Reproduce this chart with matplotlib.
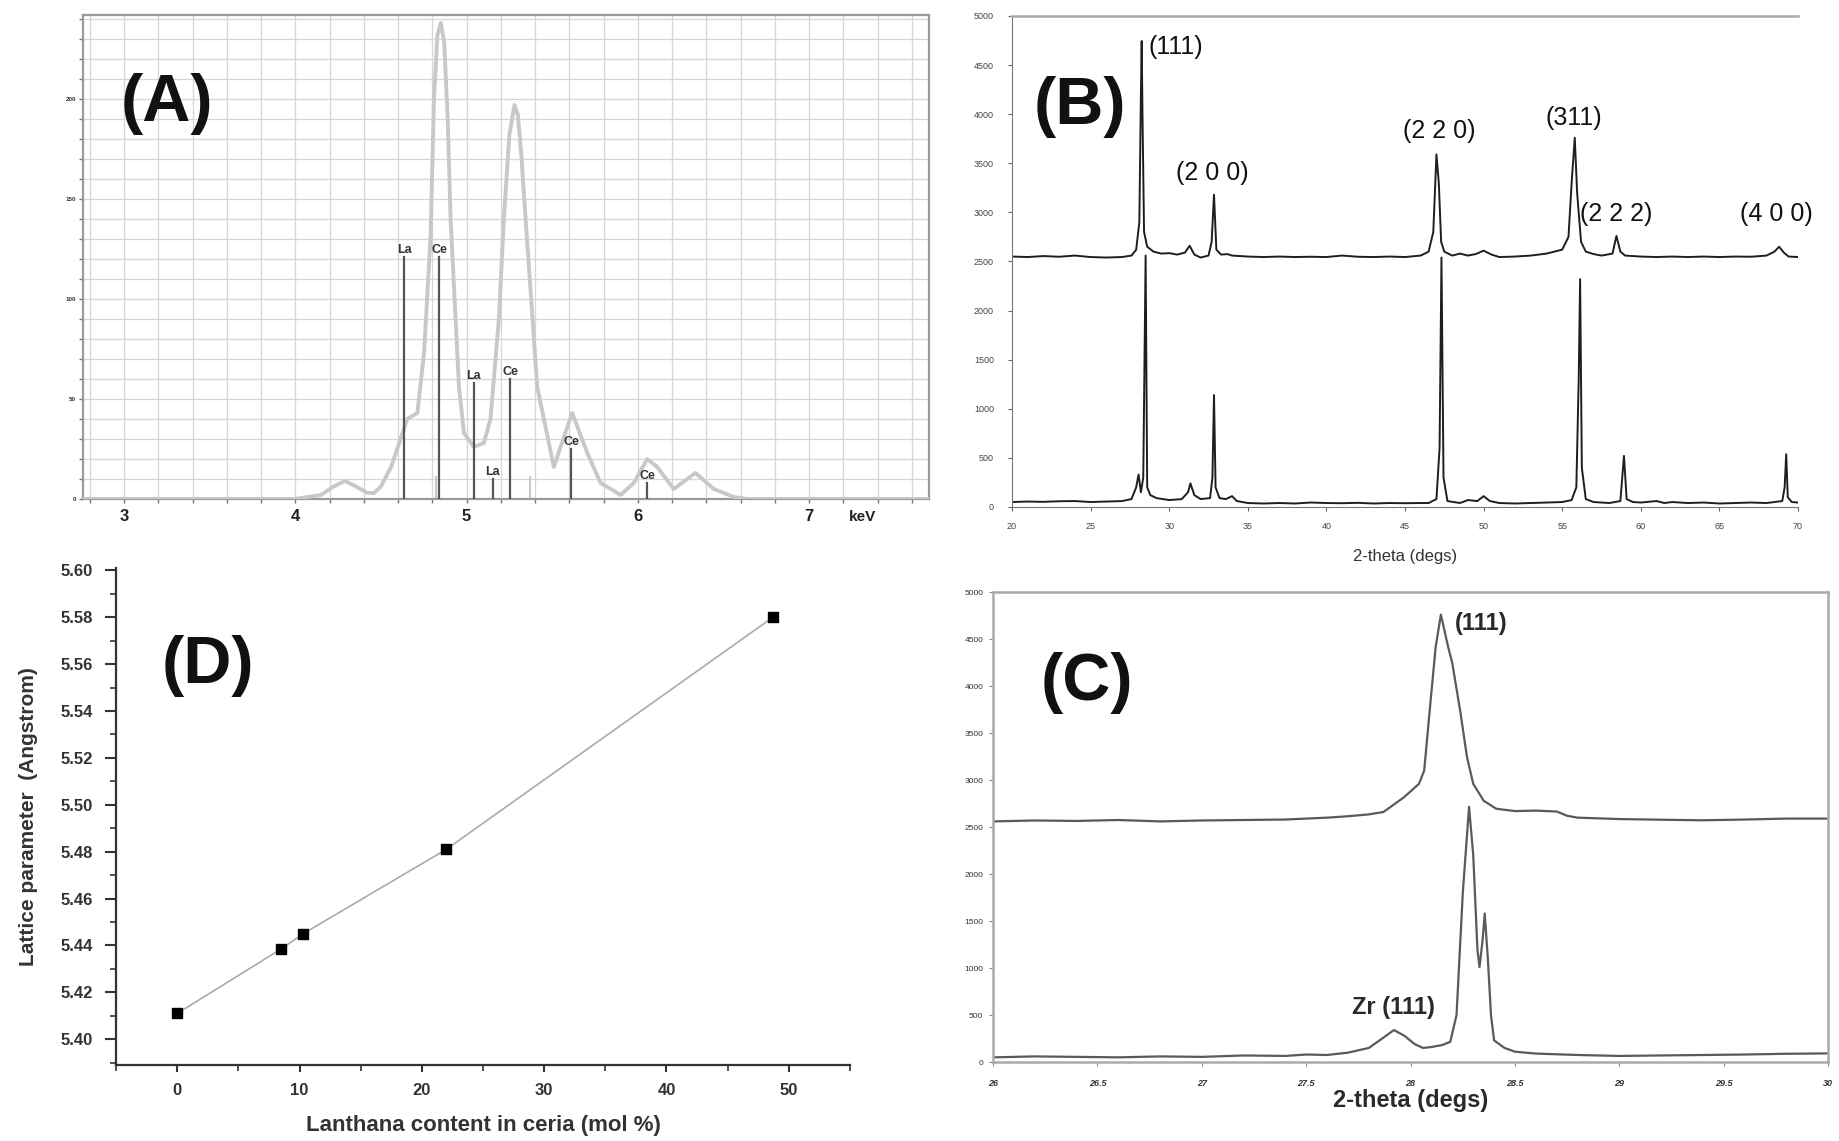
import matplotlib
matplotlib.use("Agg")
import matplotlib.pyplot as plt
from matplotlib.ticker import MultipleLocator, FormatStrFormatter
from matplotlib.transforms import blended_transform_factory

plt.rcParams["font.family"] = ["Liberation Sans", "DejaVu Sans"]
NARROW = ["Liberation Sans Narrow", "Liberation Sans", "DejaVu Sans"]

# ── (A) EDS spectrum ────────────────────────────────────────────────────────
EDS_KEV = [2.76, 3.50, 4.00, 4.15, 4.22, 4.29, 4.36, 4.42, 4.46, 4.498, 4.56,
           4.615, 4.654, 4.713, 4.752, 4.79, 4.81, 4.83, 4.85, 4.87, 4.89,
           4.907, 4.956, 4.985, 5.043, 5.101, 5.14, 5.189, 5.218, 5.25, 5.28,
           5.30, 5.32, 5.345, 5.413, 5.51, 5.549, 5.617, 5.705, 5.783, 5.90,
           5.977, 6.055, 6.113, 6.21, 6.337, 6.444, 6.561, 6.638, 7.70]
EDS_COUNTS = [0, 0, 0, 2, 6, 9, 6, 3, 3, 6, 16,
              30, 40, 43, 73, 131, 200, 232, 238, 228, 190,
              140, 56, 33, 26, 28, 40, 90, 140, 182, 197,
              192, 172, 140, 56, 16, 26, 43, 23, 8, 2,
              8, 20, 16, 5, 13, 5, 1, 0, 0]
EDS_LINE_KEV = [4.637, 4.842, 5.043, 5.153, 5.256, 5.611, 6.055]
EDS_LINE_HEIGHT = [121, 121, 58, 10, 60, 25, 8]
EDS_LINE_LABEL = ["La", "Ce", "La", "La", "Ce", "Ce", "Ce"]
EDS_FAINT_KEV = [4.82, 5.37]
EDS_FAINT_HEIGHT = [11, 11]
EDS_XTICKS = [3, 4, 5, 6, 7]
EDS_YTICKS = [0, 50, 100, 150, 200]

# ── (B) XRD, wide scan (upper: La-doped, lower: reference) ─────────────────
XRD_TT_TOP = [20, 21, 22, 23, 24, 25, 26, 27, 27.6, 27.9, 28.1, 28.2, 28.25,
              28.3, 28.4, 28.6, 29, 29.5, 30, 30.5, 31, 31.3, 31.6, 32, 32.5,
              32.7, 32.85, 33, 33.3, 33.7, 34, 35, 36, 37, 38, 39, 40, 41, 42,
              43, 44, 45, 46, 46.5, 46.8, 47.0, 47.15, 47.3, 47.5, 48, 48.5,
              49, 49.5, 50, 50.5, 51, 52, 53, 54, 55, 55.4, 55.6, 55.8, 55.95,
              56.2, 56.5, 57, 57.5, 58.2, 58.45, 58.7, 59, 60, 61, 62, 63, 64,
              65, 66, 67, 68, 68.5, 68.8, 69.1, 69.4, 70]
XRD_CT_TOP = [2550, 2545, 2555, 2548, 2560, 2545, 2540, 2545, 2560, 2620, 2900,
              4200, 4745, 4000, 2800, 2650, 2600, 2580, 2585, 2570, 2590, 2660,
              2570, 2540, 2560, 2700, 3180, 2620, 2570, 2575, 2560, 2550, 2545,
              2550, 2545, 2548, 2545, 2560, 2548, 2545, 2550, 2545, 2560, 2600,
              2800, 3590, 3300, 2700, 2600, 2560, 2580, 2560, 2575, 2610, 2570,
              2545, 2550, 2560, 2580, 2620, 2750, 3300, 3760, 3200, 2700, 2600,
              2575, 2560, 2580, 2760, 2600, 2560, 2550, 2545, 2550, 2545, 2550,
              2545, 2550, 2548, 2560, 2600, 2650, 2590, 2550, 2545]
XRD_TT_BOT = [20, 21, 22, 23, 24, 25, 26, 27, 27.6, 27.9, 28.05, 28.2, 28.35,
              28.5, 28.6, 28.8, 29.2, 30, 30.8, 31.2, 31.35, 31.6, 32, 32.6,
              32.75, 32.85, 32.95, 33.2, 33.6, 34, 34.3, 35, 36, 37, 38, 39, 40,
              41, 42, 43, 44, 45, 46, 46.5, 47.0, 47.2, 47.32, 47.45, 47.7, 48.5,
              49, 49.6, 50, 50.4, 51, 52, 53, 54, 55, 55.6, 55.9, 56.05, 56.14,
              56.25, 56.5, 57, 58, 58.7, 58.93, 59.1, 59.5, 60, 61, 61.5, 62, 63,
              64, 65, 66, 67, 68, 69, 69.15, 69.25, 69.35, 69.6, 70]
XRD_CT_BOT = [50, 55, 52, 58, 60, 50, 55, 60, 80, 200, 330, 150, 300,
              2560, 200, 120, 90, 70, 80, 150, 240, 120, 80, 90,
              300, 1140, 200, 90, 80, 110, 60, 40, 35, 40, 35, 45, 40,
              38, 42, 35, 40, 38, 40, 40, 80, 600, 2540, 300, 60, 40,
              70, 60, 110, 60, 40, 35, 40, 45, 50, 70, 200, 1300, 2320,
              400, 80, 50, 40, 60, 520, 80, 50, 45, 60, 40, 50, 40,
              45, 35, 40, 45, 40, 60, 200, 537, 100, 50, 45]
XRD_LABELS = ["(111)", "(2 0 0)", "(2 2 0)", "(311)", "(2 2 2)", "(4 0 0)"]
XRD_LABEL_TT = [30.43, 32.72, 47.16, 55.75, 58.42, 68.6]
XRD_LABEL_CT = [4684, 3401, 3829, 3961, 2984, 2984]

# ── (C) XRD, (111) region ──────────────────────────────────────────────────
ZOOM_TT_TOP = [26.0, 26.2, 26.4, 26.6, 26.8, 27.0, 27.2, 27.4, 27.6, 27.7,
               27.8, 27.87, 27.97, 28.04, 28.065, 28.09, 28.12, 28.145, 28.18,
               28.2, 28.24, 28.27, 28.3, 28.35, 28.41, 28.5, 28.6, 28.7, 28.75,
               28.8, 29.0, 29.2, 29.4, 29.6, 29.8, 30.0]
ZOOM_CT_TOP = [2560, 2570, 2565, 2575, 2560, 2570, 2575, 2580, 2600, 2615,
               2635, 2660, 2820, 2960, 3100, 3705, 4415, 4760, 4415,
               4240, 3700, 3245, 2960, 2780, 2695, 2670, 2675, 2665, 2620,
               2600, 2585, 2578, 2572, 2580, 2590, 2590]
ZOOM_TT_BOT = [26.0, 26.2, 26.4, 26.6, 26.8, 27.0, 27.2, 27.4, 27.5, 27.6,
               27.7, 27.8, 27.87, 27.92, 27.97, 28.02, 28.06, 28.1, 28.15,
               28.19, 28.22, 28.25, 28.28, 28.3, 28.32, 28.33, 28.345, 28.355,
               28.37, 28.385, 28.4, 28.45, 28.5, 28.6, 28.8, 29.0, 29.2, 29.4,
               29.6, 29.8, 30.0]
ZOOM_CT_BOT = [50, 60, 55, 50, 60, 55, 70, 65, 80, 75,
               100, 150, 260, 340, 280, 190, 150, 160, 180,
               215, 500, 1800, 2715, 2200, 1200, 1010, 1300, 1580,
               1100, 500, 230, 150, 110, 90, 75, 65, 70, 75,
               80, 88, 92]
ZOOM_LABELS = ["(111)", "Zr (111)"]
ZOOM_LABEL_TT = [28.34, 27.92]
ZOOM_LABEL_CT = [4670, 585]
ZOOM_XTICKS = [26, 26.5, 27, 27.5, 28, 28.5, 29, 29.5, 30]

# ── (D) lattice parameter vs. lanthana content ─────────────────────────────
LA_CONTENT = [0, 8.5, 10.3, 22.0, 48.7]
LATTICE_A = [5.411, 5.4385, 5.445, 5.481, 5.580]

# ── Figure ─────────────────────────────────────────────────────────────────
fig = plt.figure(figsize=(18.39, 11.41), dpi=100, facecolor="white")

# (A)
axA = fig.add_axes([0.0451, 0.5627, 0.460, 0.4242])
axA.plot(EDS_KEV, EDS_COUNTS, color="#c8c8c8", lw=2.8, zorder=3)
for k, h in zip(EDS_FAINT_KEV, EDS_FAINT_HEIGHT):
    axA.plot([k, k], [0, h], color="#c8c8c8", lw=1.5, zorder=2)
for k, h, lab in zip(EDS_LINE_KEV, EDS_LINE_HEIGHT, EDS_LINE_LABEL):
    axA.plot([k, k], [0, h], color="#555555", lw=1.6, zorder=4)
    axA.annotate(lab, (k, h), xytext=(0, 1), textcoords="offset points",
                 ha="center", va="bottom", fontsize=9, color="#333333",
                 fontweight="bold", zorder=5)
axA.set_xlim(2.76, 7.70)
axA.set_ylim(0, 242)
axA.set_xticks(EDS_XTICKS)
axA.set_xticklabels([str(t) for t in EDS_XTICKS], fontsize=12,
                    fontweight="bold", color="#222222")
axA.set_yticks(EDS_YTICKS)
axA.set_yticklabels([str(t) for t in EDS_YTICKS], fontsize=4.5,
                    fontweight="bold", color="#333333")
axA.xaxis.set_minor_locator(MultipleLocator(0.2))
axA.yaxis.set_minor_locator(MultipleLocator(10))
axA.grid(True, which="both", color="#d6d6d6", lw=0.9, zorder=0)
axA.set_axisbelow(True)
axA.tick_params(which="both", direction="out", length=3, width=1,
                color="#777777", pad=4)
axA.tick_params(axis="y", pad=2)
for s in axA.spines.values():
    s.set_color("#9a9a9a")
    s.set_linewidth(1.6)
trA = blended_transform_factory(axA.transData, axA.transAxes)
axA.text(7.31, -0.037, "keV", transform=trA, ha="center", va="center",
         fontsize=11, fontweight="bold", color="#222222")

# (B)
axB = fig.add_axes([0.5503, 0.5557, 0.4274, 0.4303])
axB.plot(XRD_TT_TOP, XRD_CT_TOP, color="#1e1e1e", lw=1.4)
axB.plot(XRD_TT_BOT, XRD_CT_BOT, color="#1e1e1e", lw=1.4)
for lab, x, y in zip(XRD_LABELS, XRD_LABEL_TT, XRD_LABEL_CT):
    axB.text(x, y, lab, ha="center", va="center", fontsize=18,
             family=NARROW, fontstretch="condensed", color="#111111")
axB.set_xlim(20, 70)
axB.set_ylim(0, 5000)
axB.set_xticks(range(20, 71, 5))
axB.set_yticks(range(0, 5001, 500))
axB.tick_params(labelsize=6.5, length=3, color="#666666",
                labelcolor="#444444")
axB.tick_params(axis="y", pad=10)
axB.tick_params(axis="x", pad=8)
for lbl in axB.get_xticklabels() + axB.get_yticklabels():
    lbl.set_family(NARROW)
axB.spines["right"].set_visible(False)
axB.spines["top"].set_color("#aaaaaa")
axB.spines["top"].set_linewidth(1.8)
axB.spines["left"].set_color("#777777")
axB.spines["bottom"].set_color("#777777")
axB.set_xlabel("2-theta (degs)", fontsize=12, family=NARROW,
               color="#333333", labelpad=13)

# (C)
axC = fig.add_axes([0.540, 0.0692, 0.4541, 0.4119])
axC.plot(ZOOM_TT_TOP, ZOOM_CT_TOP, color="#5a5a5a", lw=1.6)
axC.plot(ZOOM_TT_BOT, ZOOM_CT_BOT, color="#5a5a5a", lw=1.6)
for lab, x, y in zip(ZOOM_LABELS, ZOOM_LABEL_TT, ZOOM_LABEL_CT):
    axC.text(x, y, lab, ha="center", va="center", fontsize=17,
             family=NARROW, fontstretch="condensed", fontweight="bold",
             color="#2a2a2a")
axC.set_xlim(26, 30)
axC.set_ylim(0, 5000)
axC.set_xticks(ZOOM_XTICKS)
axC.set_xticklabels([f"{t:g}" for t in ZOOM_XTICKS], fontsize=6.5,
                    fontweight="bold", style="italic", color="#333333")
axC.set_yticks(range(0, 5001, 500))
axC.tick_params(axis="y", labelsize=6, length=3, pad=4, color="#888888",
                labelcolor="#333333")
axC.tick_params(axis="x", length=3, pad=9, color="#888888")
for s in axC.spines.values():
    s.set_color("#aaaaaa")
    s.set_linewidth(1.8)
axC.set_xlabel("2-theta (degs)", fontsize=17, family=NARROW,
               fontstretch="condensed", fontweight="bold", color="#2a2a2a",
               labelpad=1)

# (D)
axD = fig.add_axes([0.0631, 0.0666, 0.3991, 0.4356])
axD.plot(LA_CONTENT, LATTICE_A, color="#aaaaaa", lw=1.2, zorder=2)
axD.plot(LA_CONTENT, LATTICE_A, ls="none", marker="s", ms=6.5,
         color="black", zorder=3)
axD.set_xlim(-5, 55)
axD.set_ylim(5.389, 5.601)
axD.set_xticks(range(0, 51, 10))
axD.set_yticks([5.40 + 0.02 * i for i in range(11)])
axD.yaxis.set_major_formatter(FormatStrFormatter("%.2f"))
axD.xaxis.set_minor_locator(MultipleLocator(5))
axD.yaxis.set_minor_locator(MultipleLocator(0.01))
axD.tick_params(which="major", direction="out", width=1.5, color="#333333",
                labelsize=12, labelcolor="#333333")
axD.tick_params(axis="y", which="major", length=8, pad=9)
axD.tick_params(axis="x", which="major", length=5, pad=8)
axD.tick_params(which="minor", direction="out", length=4, width=1.2,
                color="#333333")
for lbl in axD.get_xticklabels() + axD.get_yticklabels():
    lbl.set_fontweight("bold")
for s in ("top", "right"):
    axD.spines[s].set_visible(False)
for s in ("left", "bottom"):
    axD.spines[s].set_color("#333333")
    axD.spines[s].set_linewidth(1.6)
axD.set_xlabel("Lanthana content in ceria (mol %)", fontsize=16,
               fontweight="bold", color="#333333", labelpad=12)
axD.set_ylabel("Lattice parameter  (Angstrom)", fontsize=15,
               fontweight="bold", color="#333333", labelpad=16)

# Panel letters
for lab, x, y in [("(A)", 0.0908, 0.909), ("(B)", 0.5873, 0.906),
                  ("(C)", 0.591, 0.401), ("(D)", 0.113, 0.416)]:
    fig.text(x, y, lab, ha="center", va="center", fontsize=48,
             fontweight="bold", color="#111111")

fig.savefig("out.png", dpi=100, facecolor="white")
